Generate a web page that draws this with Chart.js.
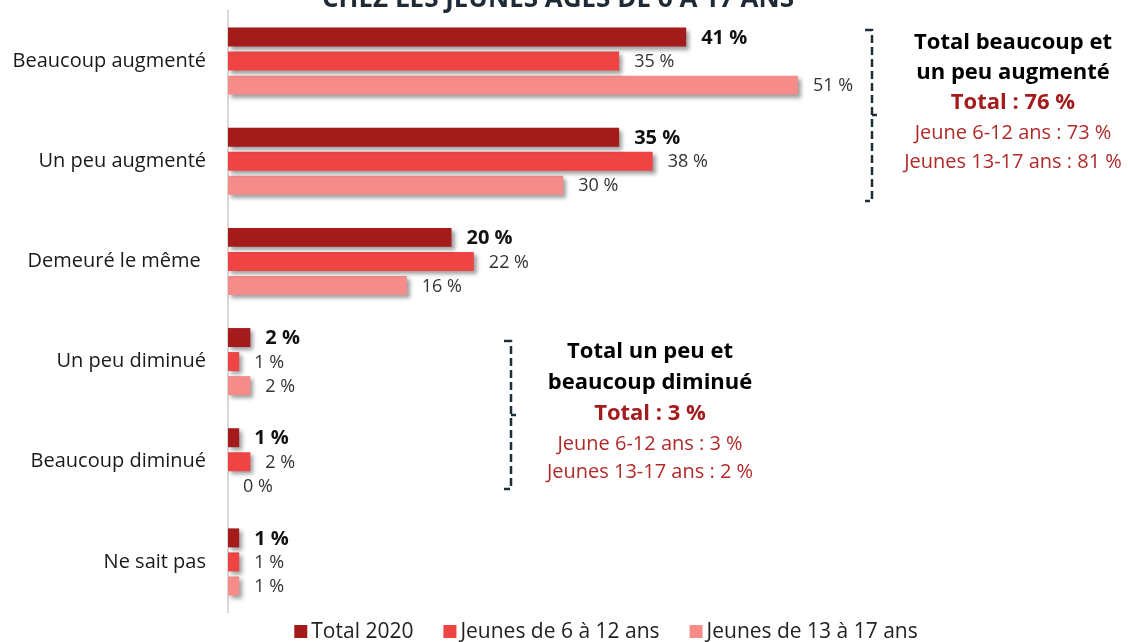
<!DOCTYPE html>
<html>
<head>
<meta charset="utf-8">
<script src="https://cdn.jsdelivr.net/npm/chart.js@4.4.0/dist/chart.umd.min.js"></script>
<style>
  html, body { margin: 0; padding: 0; background: #fff; }
  #wrap { width: 1128px; height: 642px; }
</style>
</head>
<body>
<div id="wrap"><canvas id="graphique"></canvas></div>
<script>
const categories = ['Beaucoup augmenté', 'Un peu augmenté', 'Demeuré le même ', 'Un peu diminué', 'Beaucoup diminué', 'Ne sait pas'];
const seriesNames = ['Total 2020', 'Jeunes de 6 à 12 ans', 'Jeunes de 13 à 17 ans'];
const total2020 = [41, 35, 20, 2, 1, 1];
const jeunes612 = [35, 38, 22, 1, 2, 1];
const jeunes1317 = [51, 30, 16, 2, 0, 1];
const couleurs = ['#A31B1B', '#EF4444', '#F58C8A'];
const titre = 'CHEZ LES JEUNES ÂGÉS DE 6 À 17 ANS';
const noteHausse = ['Total beaucoup et', 'un peu augmenté', 'Total : 76 %', 'Jeune 6-12 ans : 73 %', 'Jeunes 13-17 ans : 81 %'];
const noteBaisse = ['Total un peu et', 'beaucoup diminué', 'Total : 3 %', 'Jeune 6-12 ans : 3 %', 'Jeunes 13-17 ans : 2 %'];

const police = '"Open Sans", sans-serif';

// ombre portée sous les barres
const ombre = {
  id: 'ombre',
  beforeDatasetsDraw(chart) {
    const ctx = chart.ctx;
    ctx.save();
    ctx.shadowColor = 'rgba(0,0,0,0.38)';
    ctx.shadowBlur = 4;
    ctx.shadowOffsetX = 3;
    ctx.shadowOffsetY = 3;
  },
  afterDatasetsDraw(chart) {
    chart.ctx.restore();
  }
};

// valeurs au bout des barres
const etiquettes = {
  id: 'etiquettes',
  afterDatasetsDraw(chart) {
    const ctx = chart.ctx;
    ctx.save();
    ctx.textBaseline = 'middle';
    ctx.textAlign = 'left';
    chart.data.datasets.forEach((ds, i) => {
      const meta = chart.getDatasetMeta(i);
      meta.data.forEach((bar, j) => {
        if (i === 0) {
          ctx.font = 'bold 20px ' + police;
          ctx.fillStyle = '#111';
        } else {
          ctx.font = '18px ' + police;
          ctx.fillStyle = '#333';
        }
        ctx.fillText(ds.data[j] + ' %', bar.x + 15, bar.y + 1);
      });
    });
    ctx.restore();
  }
};

function accolade(ctx, x, haut, bas, milieu) {
  ctx.save();
  ctx.strokeStyle = '#1F2F38';
  ctx.lineWidth = 2.5;
  ctx.setLineDash([8, 4]);
  ctx.beginPath();
  ctx.moveTo(x - 7, haut);
  ctx.lineTo(x, haut);
  ctx.lineTo(x, bas);
  ctx.lineTo(x - 7, bas);
  ctx.stroke();
  ctx.setLineDash([]);
  ctx.beginPath();
  ctx.moveTo(x, milieu);
  ctx.lineTo(x + 5, milieu);
  ctx.stroke();
  ctx.restore();
}

function note(ctx, lignes, cx, ys) {
  ctx.save();
  ctx.textAlign = 'center';
  ctx.textBaseline = 'middle';
  lignes.forEach((t, k) => {
    if (k < 2) { ctx.font = 'bold 22px ' + police; ctx.fillStyle = '#000'; }
    else if (k === 2) { ctx.font = 'bold 22px ' + police; ctx.fillStyle = '#A31B1B'; }
    else { ctx.font = '20px ' + police; ctx.fillStyle = '#B02A2A'; }
    ctx.fillText(t, cx, ys[k]);
  });
  ctx.restore();
}

const extras = {
  id: 'extras',
  afterDraw(chart) {
    const ctx = chart.ctx;
    // titre coupé en haut
    ctx.save();
    ctx.font = 'bold 26px ' + police;
    ctx.fillStyle = '#1E2B37';
    ctx.textAlign = 'center';
    ctx.textBaseline = 'alphabetic';
    ctx.fillText(titre, 558, 7);
    ctx.restore();

    accolade(ctx, 872, 30, 201, 115);
    accolade(ctx, 511, 341, 489, 415);
    note(ctx, noteHausse, 1013, [43, 73, 103, 133, 162]);
    note(ctx, noteBaisse, 650, [352, 383, 414, 444, 472]);

    // légende
    ctx.save();
    ctx.font = '21px ' + police;
    ctx.textBaseline = 'middle';
    ctx.textAlign = 'left';
    const ecart = 30, boite = 13;
    const largeurs = seriesNames.map(n => boite + 4 + ctx.measureText(n).width);
    const total = largeurs.reduce((a, b) => a + b, 0) + ecart * (seriesNames.length - 1);
    let x = 606 - total / 2;
    const y = 631;
    seriesNames.forEach((n, i) => {
      ctx.fillStyle = couleurs[i];
      ctx.fillRect(x, y - 6, boite, boite);
      ctx.fillStyle = '#222';
      ctx.fillText(n, x + boite + 4, y + 1);
      x += largeurs[i] + ecart;
    });
    ctx.restore();
  }
};

new Chart(document.getElementById('graphique'), {
  type: 'bar',
  data: {
    labels: categories,
    datasets: [
      { label: seriesNames[0], data: total2020, backgroundColor: couleurs[0] },
      { label: seriesNames[1], data: jeunes612, backgroundColor: couleurs[1] },
      { label: seriesNames[2], data: jeunes1317, backgroundColor: couleurs[2] }
    ]
  },
  options: {
    indexAxis: 'y',
    responsive: true,
    maintainAspectRatio: false,
    animation: false,
    categoryPercentage: 0.72,
    barPercentage: 0.79,
    layout: { padding: { top: 11, right: 6, bottom: 30, left: 0 } },
    scales: {
      x: { display: false, min: 0, max: 80 },
      y: {
        grid: { display: false, drawTicks: false },
        border: { display: true, color: '#D9D9D9', width: 2 },
        ticks: {
          padding: 22,
          color: '#1A1A1A',
          font: { family: 'Open Sans', size: 20 }
        },
        afterFit(scale) {
          scale.width = 228;
          scale.paddingTop = 0;
          scale.paddingBottom = 0;
        }
      }
    },
    plugins: {
      legend: { display: false },
      tooltip: { enabled: false }
    }
  },
  plugins: [ombre, etiquettes, extras]
});
</script>
</body>
</html>
